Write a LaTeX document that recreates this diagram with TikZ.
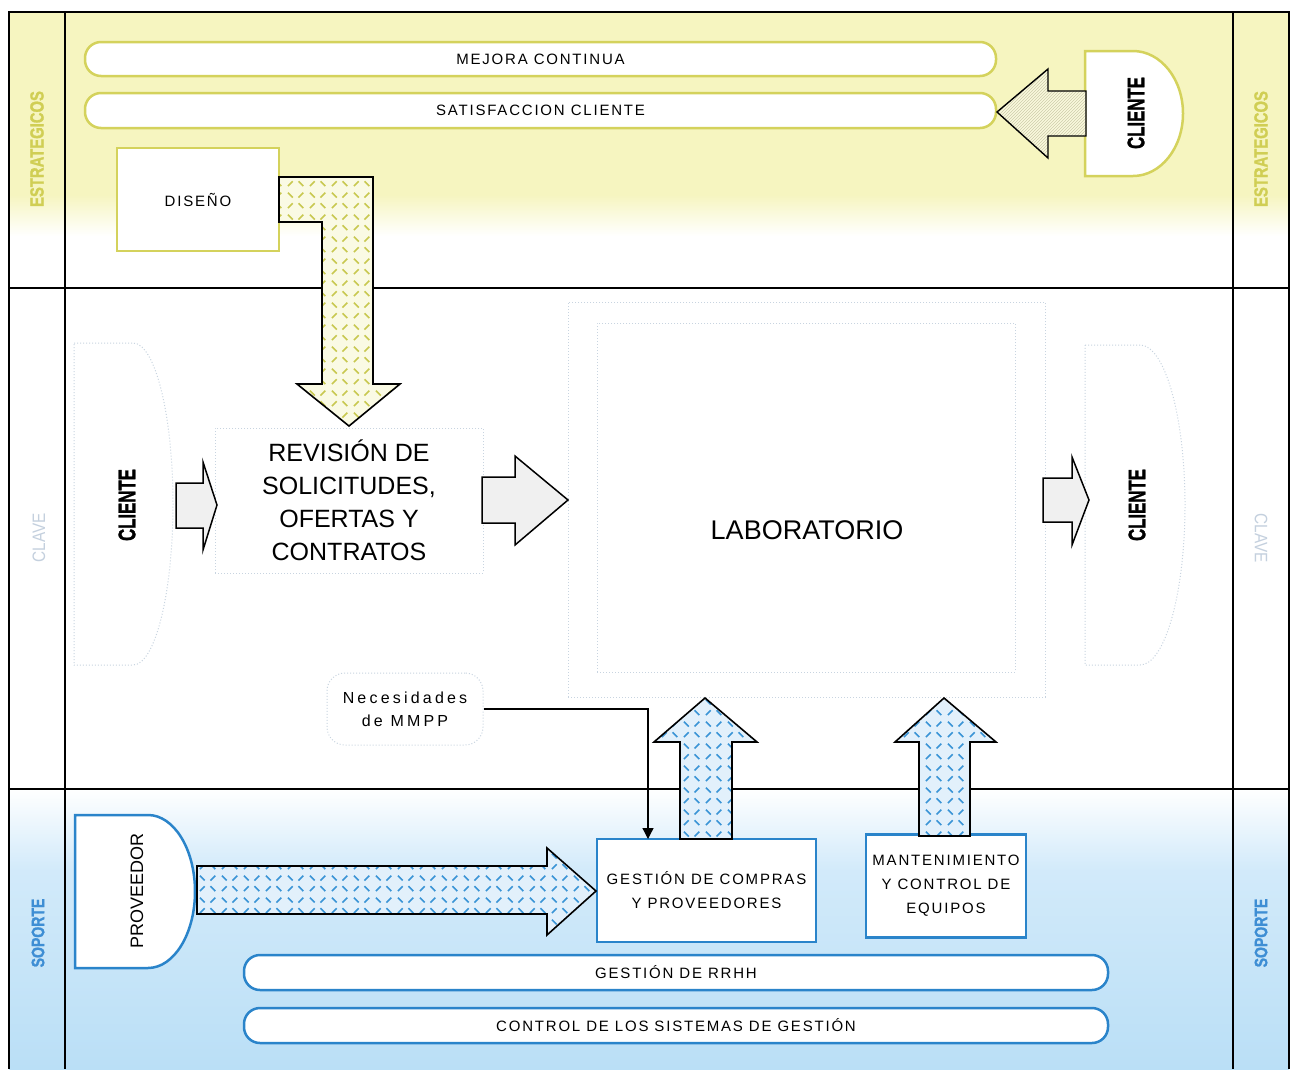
\documentclass[tikz,border=0pt]{standalone}
\usepackage{graphicx}
\usepackage{fontspec}
\setmainfont{Liberation Sans}
\newfontfamily\spc[LetterSpace=12]{Liberation Sans}
\newfontfamily\spcw[LetterSpace=20]{Liberation Sans}
\newfontfamily\heavy[FakeBold=1.5]{Liberation Sans Bold}
\usetikzlibrary{patterns,patterns.meta,arrows.meta}

\definecolor{ybg}{RGB}{246,245,192}
\definecolor{yline}{RGB}{212,210,92}
\definecolor{ytext}{RGB}{208,206,84}
\definecolor{bbg}{RGB}{186,223,246}
\definecolor{bmid}{RGB}{210,234,250}
\definecolor{bline}{RGB}{42,132,202}
\definecolor{btext}{RGB}{62,142,212}
\definecolor{ghostc}{RGB}{200,212,224}
\definecolor{clavec}{RGB}{196,208,222}
\definecolor{yarrbg}{RGB}{250,250,228}
\definecolor{yarr}{RGB}{200,200,80}
\definecolor{barrbg}{RGB}{226,240,251}
\definecolor{barr}{RGB}{58,148,214}
\definecolor{hbg}{RGB}{250,249,222}
\definecolor{hline}{RGB}{205,205,170}
\definecolor{garr}{RGB}{240,240,240}

\tikzdeclarepattern{
  name=plate,
  type=uncolored,
  bottom left={(0pt,0pt)},
  top right={(22pt,22pt)},
  tile size={(22pt,22pt)},
  code={
    \tikzset{x=1pt,y=1pt}
    \draw[line width=1.7pt] (2,3) -- (7,8);
    \draw[line width=1.7pt] (13,8) -- (18,3);
    \draw[line width=1.7pt] (2,19) -- (7,14);
    \draw[line width=1.7pt] (13,14) -- (18,19);
  }
}

\tikzset{
  frame/.style={draw=black, line width=1.5pt},
  pillY/.style={draw=yline, line width=2.5pt, fill=white, rounded corners=16pt,
    minimum height=34pt, inner sep=0pt, font=\spc\fontsize{15}{18}\selectfont},
  pillB/.style={draw=bline, line width=2.5pt, fill=white, rounded corners=16pt,
    minimum height=34pt, inner sep=0pt, font=\spc\fontsize{15}{18}\selectfont},
  boxY/.style={draw=yline, line width=2.5pt, fill=white, inner sep=0pt,
    font=\spc\fontsize{15}{18}\selectfont},
  boxB/.style={draw=bline, line width=2.5pt, fill=white, inner sep=0pt, align=center,
    font=\spc\fontsize{15}{24}\selectfont},
  ghost/.style={draw=ghostc, dotted, line width=1pt},
  ghostbox/.style={draw=ghostc, dotted, line width=1pt, inner sep=0pt},
  sidelabel/.style={rotate=90, font=\heavy\fontsize{19}{19}\selectfont},
  clientelabel/.style={rotate=90, font=\heavy\fontsize{24}{24}\selectfont},
  blockarrow/.style={draw=black, line width=1.6pt, line join=miter},
  yarrow/.style={blockarrow, preaction={fill=yarrbg}, pattern=plate, pattern color=yarr},
  barrow/.style={blockarrow, preaction={fill=barrbg}, pattern=plate, pattern color=barr},
  garrow/.style={blockarrow, line width=1.5pt, fill=garr},
}

\begin{document}
\begin{tikzpicture}[x=1pt,y=-1pt]
% canvas
\fill[white] (0,0) rectangle (1293,1069);
\useasboundingbox (0,0) rectangle (1293,1069);

% band backgrounds
\fill[ybg] (9,12) rectangle (1289,195);
\shade[top color=ybg, bottom color=white] (9,195) rectangle (1289,236);
\shade[top color=white, bottom color=bmid] (9,789) rectangle (1289,870);
\shade[top color=bmid, bottom color=bbg] (9,870) rectangle (1289,1069);

% frame
\draw[frame] (9,1069) -- (9,12) -- (1289,12) -- (1289,1069);
\draw[frame] (65,12) -- (65,1069);
\draw[frame] (1233,12) -- (1233,1069);
\draw[frame] (9,288) -- (1289,288);
\draw[frame] (9,789) -- (1289,789);

% side labels
\node[sidelabel, text=ytext] (estL) at (37,149) {\scalebox{0.78}[1]{ESTRATEGICOS}};
\node[sidelabel, text=ytext] (estR) at (1261,149) {\scalebox{0.78}[1]{ESTRATEGICOS}};
\node[rotate=90, text=clavec, font=\fontsize{18}{18}\selectfont] (claveL) at (39,538) {\scalebox{0.85}[1]{CLAVE}};
\node[rotate=-90, text=clavec, font=\fontsize{18}{18}\selectfont] (claveR) at (1261,538) {\scalebox{0.85}[1]{CLAVE}};
\node[sidelabel, text=btext, font=\heavy\fontsize{18}{18}\selectfont] (sopL) at (38,933) {\scalebox{0.78}[1]{SOPORTE}};
\node[sidelabel, text=btext, font=\heavy\fontsize{18}{18}\selectfont] (sopR) at (1261,933) {\scalebox{0.78}[1]{SOPORTE}};

% strategic processes
\node[pillY, minimum width=911pt] (mejora) at (540.5,59) {MEJORA CONTINUA};
\node[pillY, minimum width=911pt, minimum height=35pt] (satis) at (540.5,110.5) {SATISFACCION CLIENTE};
\node[boxY, minimum width=162pt, minimum height=103pt] (diseno) at (198,199.5) {DISEÑO};

% client (top right)
\draw[draw=yline, line width=2.5pt, fill=white]
  (1085,51) -- (1133,51) arc[start angle=90, end angle=-90, x radius=50pt, y radius=62.5pt]
  -- (1085,176) -- cycle;
\node[clientelabel] (clienteT) at (1136,113) {\scalebox{0.7}[1]{CLIENTE}};
\draw[blockarrow, line width=1.4pt, preaction={fill=hbg}, pattern=north east lines, pattern color=hline]
  (1086,91) -- (1048,91) -- (1048,69) -- (997,112) -- (1048,158) -- (1048,136) -- (1086,136) -- cycle;

% key processes
\draw[ghost] (74,343) -- (133,343) arc[start angle=90, end angle=-90, x radius=40pt, y radius=161pt]
  -- (74,665) -- cycle;
\node[clientelabel] (clienteL) at (127,505) {\scalebox{0.7}[1]{CLIENTE}};
\draw[ghost] (1085,345) -- (1140,345) arc[start angle=90, end angle=-90, x radius=45pt, y radius=160pt]
  -- (1085,665) -- cycle;
\node[clientelabel] (clienteR) at (1137,505) {\scalebox{0.7}[1]{CLIENTE}};

\node[ghostbox, minimum width=268pt, minimum height=145pt, align=center,
  font=\fontsize{25}{33}\selectfont] (revision) at (349,500.5)
  {REVISIÓN DE\\SOLICITUDES,\\OFERTAS Y\\CONTRATOS};
\node[ghostbox, minimum width=477pt, minimum height=395pt] (labout) at (806.5,499.5) {};
\node[ghostbox, minimum width=418pt, minimum height=349pt] (lab) at (806,497.5) {};
\node[font=\fontsize{27}{30}\selectfont, inner sep=0pt] (labtxt) at (807,530) {LABORATORIO};

\node[ghostbox, rounded corners=18pt, minimum width=156pt, minimum height=72pt, align=center,
  font=\spcw\fontsize{16}{23}\selectfont] (nec) at (405,709) {Necesidades\\de MMPP};

% gray arrows
\draw[garrow] (176,483) -- (203,483) -- (203,462) -- (217,505) -- (203,550) -- (203,528) -- (176,528) -- cycle;
\draw[garrow] (482,477) -- (515,477) -- (515,456) -- (568,500) -- (515,545) -- (515,523) -- (482,523) -- cycle;
\draw[garrow] (1043,478) -- (1072,478) -- (1072,457) -- (1089,500) -- (1072,545) -- (1072,522) -- (1043,522) -- cycle;

% yellow L arrow from DISEÑO
\draw[yarrow] (279,177) -- (373,177) -- (373,384) -- (400,384) -- (349,426) -- (297,384)
  -- (322,384) -- (322,222) -- (279,222) -- cycle;

% support processes
\draw[draw=bline, line width=2.5pt, fill=white]
  (75,815) -- (148,815) arc[start angle=90, end angle=-90, x radius=47pt, y radius=76.5pt]
  -- (75,968) -- cycle;
\node[rotate=90, font=\fontsize{18}{18}\selectfont] (prov) at (137,891) {PROVEEDOR};

\node[boxB, minimum width=219pt, minimum height=103pt] (compras) at (706.5,890.5)
  {GESTIÓN DE COMPRAS\\Y PROVEEDORES};
\node[boxB, minimum width=160pt, minimum height=103pt] (mant) at (946,886)
  {MANTENIMIENTO\\Y CONTROL DE\\EQUIPOS};

\draw[barrow] (197,866) -- (547,866) -- (547,848) -- (596,891) -- (547,935) -- (547,914) -- (197,914) -- cycle;
\draw[barrow] (680,839) -- (680,742) -- (654,742) -- (705,698) -- (757,742) -- (732,742) -- (732,839) -- cycle;
\draw[barrow] (919,836) -- (919,742) -- (895,742) -- (944,698) -- (996,742) -- (970,742) -- (970,836) -- cycle;

\node[pillB, minimum width=864pt, minimum height=35pt] (rrhh) at (676,972.5) {GESTIÓN DE RRHH};
\node[pillB, minimum width=864pt, minimum height=35pt] (control) at (676,1025.5) {CONTROL DE LOS SISTEMAS DE GESTIÓN};

% connector
\coordinate (mmppin) at (648,839);
\draw[line width=1.3pt, -{Triangle[width=11pt,length=11pt]}] (nec.east) -| (mmppin);
\end{tikzpicture}
\end{document}
